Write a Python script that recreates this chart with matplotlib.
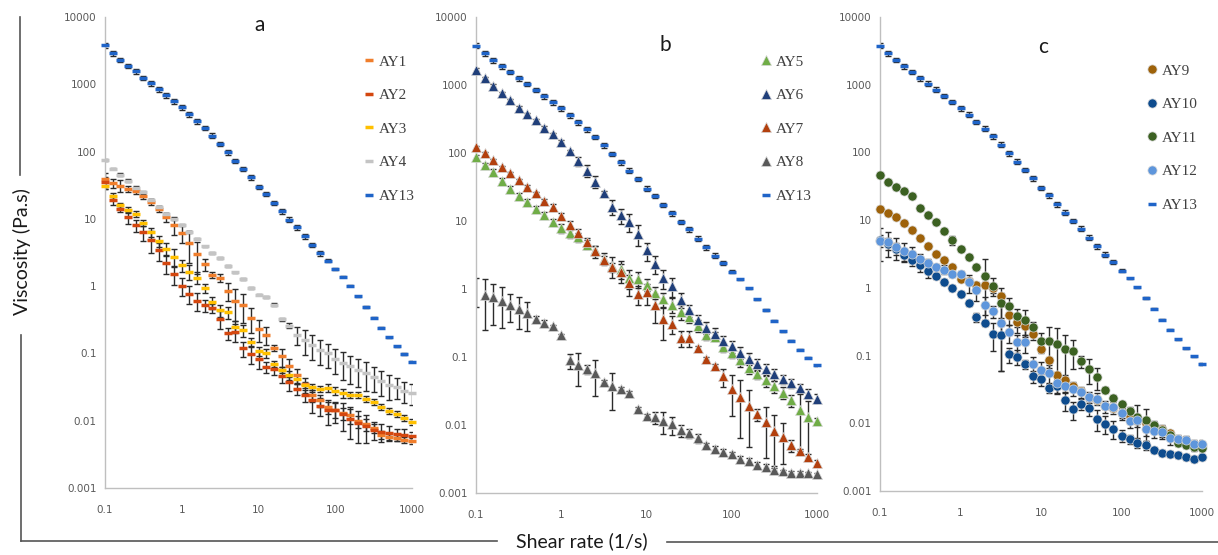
import numpy as np
import matplotlib
matplotlib.use("Agg")
import matplotlib.pyplot as plt
from matplotlib.lines import Line2D
from matplotlib.ticker import FixedLocator, FixedFormatter, NullLocator

# shear rate grid (1/s)
shear = [0.1, 0.126, 0.158, 0.2, 0.251, 0.316, 0.398, 0.501, 0.631, 0.794,
         1, 1.26, 1.58, 2, 2.51, 3.16, 3.98, 5.01, 6.31, 7.94,
         10, 12.6, 15.8, 20, 25.1, 31.6, 39.8, 50.1, 63.1, 79.4,
         100, 126, 158, 200, 251, 316, 398, 501, 631, 794, 1000]

# viscosity (Pa.s) and relative error of each point
ay13 = [3790, 2910, 2315, 1885, 1553, 1250, 1041, 848, 682, 555, 452, 360, 283, 225,
        173, 130, 97, 73, 55, 41.5, 30, 23.4, 17.2, 12.9, 9.7, 7.5, 5.5, 4.1, 3.1, 2.4,
        1.8, 1.38, 1.02, 0.71, 0.49, 0.34, 0.24, 0.174, 0.128, 0.098, 0.075]
ay13_err = [0.08, 0.08, 0.08, 0.08, 0.08, 0.08, 0.08, 0.08, 0.08, 0.08, 0.08, 0.08, 0.08,
            0.08, 0.08, 0.08, 0.08, 0.08, 0.08, 0.08, 0.08, 0.08, 0.08, 0.08, 0.08, 0.08,
            0.08, 0.08, 0.08, 0.06, 0.05, 0.02, 0.02, 0.02, 0.02, 0.02, 0.02, 0.02, 0.02,
            0.02, 0.02]

ay1 = [39, 34, 31, 28, 26, 22, 18, 14, 10.7, 8.1, 6.2, 4.4, 3.0, 2.1, 1.48, 1.34, 0.86,
       0.60, 0.52, 0.34, 0.23, 0.19, 0.12, 0.091, 0.064, 0.047, 0.035, 0.024, 0.020,
       0.016, 0.0145, 0.013, 0.012, 0.0098, 0.0088, 0.0078, 0.0062, 0.0058, 0.0055,
       0.0052, 0.005]
ay1_err = [0.25, 0.15, 0.2, 0.1, 0.1, 0.1, 0.1, 0.1, 0.15, 0.3, 0.3, 0.5, 0.5, 0.2, 0.1,
           0.15, 0.3, 0.5, 0.45, 0.4, 0.35, 0.3, 0.1, 0.3, 0.3, 0.25, 0.25, 0.2, 0.2, 0.2,
           0.25, 0.2, 0.25, 0.2, 0.2, 0.15, 0.15, 0.1, 0.1, 0.1, 0.1]
ay2 = [35, 19, 14, 10.5, 8.1, 6.3, 4.85, 3.4, 2.19, 1.51, 1.02, 0.77, 0.60, 0.52, 0.47,
       0.33, 0.20, 0.21, 0.12, 0.098, 0.083, 0.063, 0.059, 0.046, 0.037, 0.030, 0.024,
       0.020, 0.0167, 0.0146, 0.0142, 0.0127, 0.0107, 0.0093, 0.0084, 0.0074, 0.0069,
       0.0066, 0.0063, 0.0062, 0.006]
ay2_err = [0.2, 0.15, 0.1, 0.2, 0.2, 0.25, 0.35, 0.3, 0.3, 0.3, 0.3, 0.3, 0.3, 0.2, 0.15,
           0.3, 0.2, 0.3, 0.25, 0.3, 0.3, 0.2, 0.2, 0.2, 0.25, 0.2, 0.2, 0.35, 0.3, 0.4,
           0.35, 0.45, 0.5, 0.5, 0.45, 0.3, 0.3, 0.25, 0.2, 0.2, 0.15]
ay3 = [31, 21.8, 15.9, 13.7, 11.8, 8.7, 6.3, 4.7, 3.6, 2.74, 2.06, 1.65, 1.33, 0.94,
       0.58, 0.44, 0.41, 0.25, 0.22, 0.146, 0.108, 0.10, 0.07, 0.057, 0.047, 0.041,
       0.034, 0.032, 0.030, 0.031, 0.028, 0.026, 0.024, 0.024, 0.021, 0.019, 0.016,
       0.014, 0.0127, 0.011, 0.0095]
ay3_err = [0.1, 0.1, 0.1, 0.1, 0.1, 0.1, 0.15, 0.2, 0.2, 0.3, 0.2, 0.25, 0.2, 0.15, 0.2,
           0.2, 0.2, 0.2, 0.2, 0.15, 0.15, 0.15, 0.1, 0.1, 0.15, 0.15, 0.1, 0.1, 0.1, 0.15,
           0.15, 0.15, 0.1, 0.1, 0.1, 0.1, 0.1, 0.1, 0.1, 0.1, 0.1]
ay4 = [75, 56, 45, 37, 29, 25, 19, 15, 12, 10, 8.1, 6.4, 5.1, 3.9, 3.1, 2.6, 2.0, 1.6,
       1.29, 0.94, 0.75, 0.69, 0.53, 0.32, 0.26, 0.19, 0.16, 0.134, 0.114, 0.10, 0.083,
       0.072, 0.064, 0.057, 0.051, 0.045, 0.039, 0.034, 0.032, 0.028, 0.026]
ay4_err = [0.02, 0.02, 0.05, 0.05, 0.05, 0.05, 0.05, 0.03, 0.03, 0.03, 0.03, 0.03, 0.03,
           0.03, 0.03, 0.03, 0.03, 0.03, 0.03, 0.03, 0.03, 0.05, 0.05, 0.05, 0.08, 0.3,
           0.4, 0.4, 0.4, 0.4, 0.4, 0.45, 0.45, 0.45, 0.45, 0.4, 0.4, 0.4, 0.35, 0.35, 0.35]

ay5 = [86, 66, 52, 39, 30, 23.6, 19.2, 15, 12.2, 9.7, 7.9, 6.7, 5.8, 4.5, 3.7, 2.8, 2.2,
       2.0, 1.45, 1.4, 1.15, 0.88, 0.71, 0.59, 0.46, 0.39, 0.29, 0.21, 0.20, 0.14, 0.115,
       0.09, 0.07, 0.056, 0.046, 0.037, 0.030, 0.023, 0.0165, 0.013, 0.0115]
ay5_err = [0.08, 0.08, 0.1, 0.1, 0.1, 0.1, 0.1, 0.1, 0.1, 0.1, 0.15, 0.15, 0.15, 0.15,
           0.15, 0.2, 0.35, 0.3, 0.3, 0.25, 0.2, 0.2, 0.25, 0.25, 0.25, 0.2, 0.2, 0.15,
           0.15, 0.15, 0.15, 0.2, 0.2, 0.15, 0.2, 0.2, 0.2, 0.2, 0.75, 0.75, 0.1]
ay6 = [1680, 1260, 970, 750, 600, 465, 370, 305, 235, 190, 146, 106, 75, 55, 38, 26,
       16.2, 12.2, 9.7, 6.5, 3.7, 2.35, 1.45, 1.1, 0.69, 0.49, 0.35, 0.27, 0.22, 0.17,
       0.145, 0.115, 0.095, 0.079, 0.066, 0.056, 0.047, 0.041, 0.035, 0.029, 0.0245]
ay6_err = [0.05, 0.05, 0.05, 0.05, 0.05, 0.05, 0.05, 0.05, 0.05, 0.05, 0.05, 0.05, 0.15,
           0.2, 0.2, 0.05, 0.25, 0.25, 0.3, 0.35, 0.3, 0.3, 0.3, 0.3, 0.25, 0.2, 0.2, 0.2,
           0.2, 0.2, 0.2, 0.2, 0.2, 0.2, 0.2, 0.2, 0.15, 0.15, 0.15, 0.15, 0.15]
ay7 = [121, 100, 78, 62, 50, 40, 32, 25.5, 20, 15.9, 12, 8.7, 6.7, 4.9, 3.6, 2.7, 2.1,
       1.77, 1.21, 0.84, 0.89, 0.58, 0.36, 0.31, 0.19, 0.19, 0.134, 0.095, 0.074, 0.052,
       0.034, 0.026, 0.019, 0.0144, 0.011, 0.0082, 0.0067, 0.005, 0.0041, 0.0034, 0.0028]
ay7_err = [0.05, 0.05, 0.05, 0.05, 0.05, 0.05, 0.05, 0.05, 0.05, 0.1, 0.1, 0.15, 0.15,
           0.15, 0.2, 0.15, 0.15, 0.3, 0.35, 0.3, 0.35, 0.45, 0.5, 0.3, 0.25, 0.25, 0.1,
           0.05, 0.05, 0.3, 0.6, 0.75, 0.75, 0.2, 0.7, 0.7, 0.6, 0.2, 0.1, 0.1, 0.1]
ay8 = [1.0, 0.82, 0.75, 0.67, 0.59, 0.51, 0.44, 0.36, 0.32, 0.285, 0.21, 0.09, 0.076,
       0.066, 0.059, 0.043, 0.037, 0.034, 0.030, 0.0174, 0.0136, 0.013, 0.0115, 0.0102,
       0.0084, 0.0075, 0.0065, 0.005, 0.0045, 0.004, 0.0037, 0.0032, 0.0030, 0.0026,
       0.0024, 0.0022, 0.0021, 0.0020, 0.0020, 0.00197, 0.0019]
ay8_err = [0.45, 0.7, 0.6, 0.6, 0.45, 0.5, 0.45, 0.1, 0.1, 0.05, 0.05, 0.25, 0.5, 0.15,
           0.55, 0.05, 0.55, 0.05, 0.05, 0.05, 0.05, 0.2, 0.35, 0.3, 0.2, 0.15, 0.15, 0.1,
           0.1, 0.1, 0.1, 0.1, 0.1, 0.1, 0.1, 0.05, 0.05, 0.05, 0.05, 0.05, 0.05]

ay9 = [14.4, 12.8, 11.2, 9.2, 7.1, 5.5, 4.2, 3.2, 2.6, 2.0, 1.37, 1.26, 1.12, 1.12, 1.0,
       0.77, 0.40, 0.31, 0.27, 0.21, 0.123, 0.085, 0.052, 0.044, 0.036, 0.030, 0.0245,
       0.022, 0.018, 0.017, 0.014, 0.0126, 0.0115, 0.0102, 0.0085, 0.0083, 0.0071,
       0.0059, 0.0054, 0.0049, 0.0046]
ay9_err = [0.05, 0.05, 0.05, 0.05, 0.05, 0.05, 0.05, 0.05, 0.05, 0.05, 0.05, 0.1, 0.1,
           0.1, 0.15, 0.3, 0.3, 0.3, 0.3, 0.2, 0.1, 0.1, 0.1, 0.1, 0.15, 0.1, 0.1, 0.1,
           0.1, 0.1, 0.15, 0.15, 0.15, 0.15, 0.1, 0.1, 0.1, 0.1, 0.1, 0.1, 0.1]
ay10 = [5.05, 4.5, 3.8, 3.1, 2.6, 2.16, 1.76, 1.5, 1.21, 1.0, 0.82, 0.6, 0.37, 0.30,
        0.21, 0.20, 0.104, 0.096, 0.074, 0.050, 0.045, 0.033, 0.036, 0.022, 0.016,
        0.0195, 0.017, 0.0117, 0.0098, 0.0083, 0.0066, 0.0058, 0.0051, 0.0047, 0.0041,
        0.0037, 0.0035, 0.0034, 0.0032, 0.0030, 0.0032]
ay10_err = [0.5, 0.2, 0.2, 0.2, 0.2, 0.2, 0.2, 0.1, 0.1, 0.1, 0.1, 0.1, 0.15, 0.1, 0.45,
            0.7, 0.25, 0.25, 0.15, 0.2, 0.2, 0.15, 0.25, 0.3, 0.3, 0.2, 0.25, 0.35, 0.3,
            0.3, 0.2, 0.15, 0.15, 0.15, 0.1, 0.1, 0.1, 0.1, 0.1, 0.1, 0.1]
ay11 = [46, 37, 31, 27, 23, 14.9, 11.8, 9.4, 7.0, 5.1, 3.8, 2.9, 2.0, 1.5, 1.08, 0.60,
        0.54, 0.38, 0.34, 0.26, 0.166, 0.163, 0.15, 0.127, 0.116, 0.083, 0.063, 0.048,
        0.031, 0.024, 0.019, 0.015, 0.0123, 0.011, 0.0093, 0.0079, 0.0068, 0.0051,
        0.0048, 0.0044, 0.0043]
ay11_err = [0.03, 0.03, 0.03, 0.03, 0.03, 0.03, 0.03, 0.03, 0.03, 0.15, 0.05, 0.05, 0.05,
            0.8, 0.3, 0.4, 0.3, 0.3, 0.4, 0.2, 0.3, 0.6, 0.7, 0.6, 0.45, 0.2, 0.4, 0.35,
            0.1, 0.1, 0.1, 0.15, 0.5, 0.5, 0.15, 0.2, 0.1, 0.1, 0.1, 0.1, 0.1]
ay12 = [5.0, 4.8, 4.0, 3.5, 3.2, 2.65, 2.3, 2.04, 1.86, 1.6, 1.6, 1.2, 0.92, 0.56, 0.45,
        0.30, 0.22, 0.157, 0.157, 0.074, 0.062, 0.056, 0.040, 0.035, 0.032, 0.029,
        0.0245, 0.023, 0.018, 0.0173, 0.014, 0.0107, 0.011, 0.0081, 0.0076, 0.0074,
        0.006, 0.0059, 0.0057, 0.005, 0.0049]
ay12_err = [0.2, 0.4, 0.35, 0.3, 0.25, 0.2, 0.15, 0.1, 0.15, 0.1, 0.1, 0.3, 0.3, 0.3,
            0.2, 0.8, 0.3, 0.3, 0.3, 0.3, 0.3, 0.3, 0.3, 0.2, 0.2, 0.2, 0.2, 0.2, 0.2,
            0.2, 0.2, 0.2, 0.2, 0.2, 0.2, 0.2, 0.2, 0.15, 0.15, 0.15, 0.15]

panels = [
    ("a", "_", [("AY1", ay1, ay1_err, "#F07E2C"), ("AY2", ay2, ay2_err, "#D4470F"),
                ("AY3", ay3, ay3_err, "#FFC000"), ("AY4", ay4, ay4_err, "#C4C4C4"),
                ("AY13", ay13, ay13_err, "#1F64C8")]),
    ("b", "^", [("AY5", ay5, ay5_err, "#70AD47"), ("AY6", ay6, ay6_err, "#203F7A"),
                ("AY7", ay7, ay7_err, "#B3400E"), ("AY8", ay8, ay8_err, "#595959"),
                ("AY13", ay13, ay13_err, "#1F64C8")]),
    ("c", "o", [("AY9", ay9, ay9_err, "#9E620A"), ("AY10", ay10, ay10_err, "#0E4C8E"),
                ("AY11", ay11, ay11_err, "#3C6122"), ("AY12", ay12, ay12_err, "#5E96DC"),
                ("AY13", ay13, ay13_err, "#1F64C8")]),
]

yticks = [0.001, 0.01, 0.1, 1, 10, 100, 1000, 10000]
ylabels = ["0.001", "0.01", "0.1", "1", "10", "100", "1000", "10000"]
xticks = [0.1, 1, 10, 100, 1000]
xlabels = ["0.1", "1", "10", "100", "1000"]

W, H = 1218, 555
fig = plt.figure(figsize=(W / 100, H / 100), dpi=100)

# axes boxes in pixels: left, right, top, bottom
boxes = [(105, 412, 17, 488), (476, 817, 17, 493), (880, 1202, 17, 491)]
titles_at = [(260, 25), (665, 45), (1043, 47)]
legend_at = [(364, 55), (761, 55), (1147, 64)]

dash = dict(marker="_", ms=5.8, mew=2.5)

for (name, mk, series), (l, r, t, b), (tx, ty), (lx, ly) in zip(panels, boxes, titles_at, legend_at):
    ax = fig.add_axes([l / W, 1 - b / H, (r - l) / W, (b - t) / H])
    ax.set_xscale("log")
    ax.set_yscale("log")
    ax.set_xlim(0.1, 1000)
    ax.set_ylim(0.001, 10000)
    for s in ["top", "right"]:
        ax.spines[s].set_visible(False)
    for s in ["left", "bottom"]:
        ax.spines[s].set_color("#bfbfbf")
        ax.spines[s].set_linewidth(1)
    ax.yaxis.set_major_locator(FixedLocator(yticks))
    ax.yaxis.set_major_formatter(FixedFormatter(ylabels))
    ax.xaxis.set_major_locator(FixedLocator(xticks))
    ax.xaxis.set_major_formatter(FixedFormatter(xlabels))
    ax.yaxis.set_minor_locator(NullLocator())
    ax.xaxis.set_minor_locator(NullLocator())
    ax.tick_params(length=0, labelsize=7.5, labelcolor="#595959")
    ax.tick_params(axis="x", pad=12)
    ax.tick_params(axis="y", pad=6)

    handles = []
    for label, vals, rel, col in series:
        y = np.array(vals)
        e = y * np.array(rel)
        if mk == "^" and label != "AY13":
            kw = dict(marker="^", ms=6.6, mew=0.5, mec="#d8d8d8")
        elif mk == "o" and label != "AY13":
            kw = dict(marker="o", ms=6.6, mew=0.5, mec="#d8d8d8")
        else:
            kw = dict(dash, mec=col)
        ax.errorbar(shear, y, yerr=e, fmt="none", ecolor="#2b2b2b",
                    elinewidth=1, capsize=2, capthick=1, zorder=2)
        line, = ax.plot(shear, y, ls="none", color=col, mfc=col, zorder=3,
                        clip_on=False, **kw)
        if label == "AY8":
            line.set_markevery(slice(1, None))
        handles.append(Line2D([], [], ls="none", color=col, mfc=col, label=label, **kw))

    fig.text(tx / W, 1 - ty / H, name, fontsize=15, family="Lato",
             ha="center", va="center", color="#1a1a1a")
    fig.legend(handles=handles, loc="upper left", bbox_to_anchor=(lx / W, 1 - ly / H),
               frameon=False, prop={"family": "Liberation Serif", "size": 11},
               handlelength=0.7, handletextpad=0.25, labelspacing=1.3,
               borderpad=0, borderaxespad=0, labelcolor="#404040")

# outer axis labels with their guide lines
fig.text(22 / W, 1 - 252 / H, "Viscosity (Pa.s)", rotation=90, fontsize=14,
         family="Lato", ha="center", va="center", color="#1a1a1a")
fig.text(582 / W, 1 - 541 / H, "Shear rate (1/s)", fontsize=14,
         family="Lato", ha="center", va="center", color="#1a1a1a")
line_kw = dict(color="#555555", lw=1.2)
fig.add_artist(Line2D([20 / W, 20 / W], [1 - 17 / H, 1 - 175 / H], **line_kw))
fig.add_artist(Line2D([21 / W, 21 / W], [1 - 335 / H, 1 - 541 / H], **line_kw))
fig.add_artist(Line2D([21 / W, 497 / W], [1 - 541 / H, 1 - 541 / H], **line_kw))
fig.add_artist(Line2D([667 / W, 1218 / W], [1 - 542 / H, 1 - 542 / H], **line_kw))

fig.savefig("out.png", dpi=100)
